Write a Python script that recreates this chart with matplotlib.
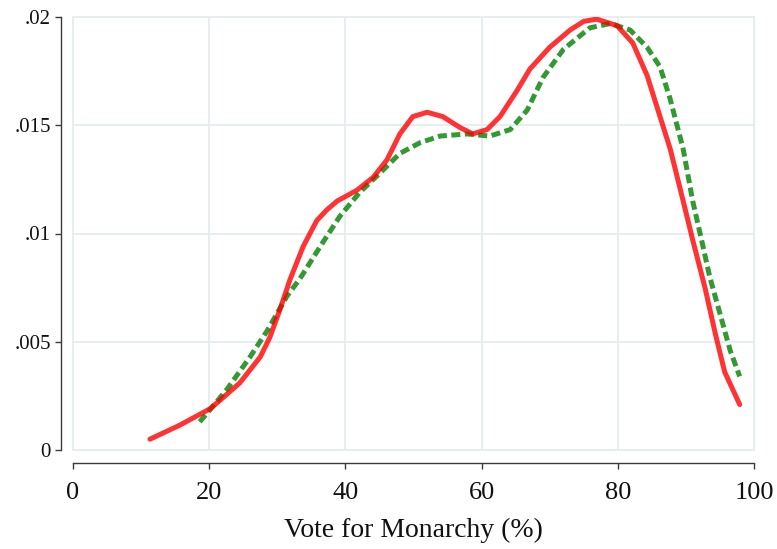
import matplotlib
matplotlib.use("Agg")
import matplotlib.pyplot as plt

# ---- data ----
red_x = [11.3, 15.7, 20.1, 21.6, 24.5, 27.5, 28.9, 30.4, 31.9, 33.8, 35.8, 37.3,
         38.8, 41.7, 44.1, 46.1, 48.0, 49.9, 52.0, 54.3, 56.8, 58.7, 60.8, 62.7,
         65.2, 67.1, 70.0, 73.0, 75.0, 76.9, 79.9, 82.2, 84.3, 87.7, 89.6, 91.0,
         92.8, 94.3, 95.7, 97.9]
red_y = [0.0005, 0.00115, 0.0019, 0.0023, 0.0031, 0.0043, 0.0052, 0.0065, 0.0079,
         0.0094, 0.0106, 0.0111, 0.0115, 0.0120, 0.0126, 0.0134, 0.0146, 0.0154,
         0.0156, 0.0154, 0.0149, 0.0146, 0.0148, 0.0154, 0.0166, 0.0176, 0.0186,
         0.0194, 0.0198, 0.0199, 0.0196, 0.0188, 0.0173, 0.0139, 0.0115, 0.0097,
         0.0075, 0.0054, 0.0036, 0.0021]

green_x = [18.6, 20.5, 22.6, 26.0, 28.5, 31.4, 33.3, 36.3, 39.2, 42.1, 45.1, 48.0,
           51.0, 53.9, 57.9, 61.2, 64.2, 66.7, 69.0, 72.0, 75.9, 78.9, 81.8, 84.3,
           86.2, 87.7, 89.6, 91.0, 92.3, 93.5, 95.0, 96.5, 97.9]
green_y = [0.0013, 0.0020, 0.0028, 0.0043, 0.0055, 0.0071, 0.0079, 0.0094, 0.0108,
           0.0119, 0.0128, 0.0137, 0.0142, 0.0145, 0.0146, 0.0145, 0.0148, 0.0157,
           0.0172, 0.0185, 0.0195, 0.0197, 0.0194, 0.0186, 0.0177, 0.0162, 0.0139,
           0.0115, 0.0097, 0.0080, 0.0063, 0.0046, 0.0034]

x_ticks = [0, 20, 40, 60, 80, 100]
x_ticklabels = ["0", "20", "40", "60", "80", "100"]
y_ticks = [0, 0.005, 0.01, 0.015, 0.02]
y_ticklabels = ["0", ".005", ".01", ".015", ".02"]
x_label = "Vote for Monarchy (%)"

# ---- figure ----
plt.rcParams['font.family'] = ['Liberation Serif', 'DejaVu Serif']
fig = plt.figure(figsize=(7.77, 5.49), dpi=100)
ax = fig.add_axes([73/777, 99/549, 681/777, 433/549])

grid_c = '#e4edf0'
ax.set_xlim(0, 100)
ax.set_ylim(0, 0.02)

ax.plot(green_x, green_y, color=(0.0, 0.5, 0.0), alpha=0.8, lw=3.6,
        dashes=(1.8, 0.9), dash_capstyle='butt', solid_joinstyle='round',
        dash_joinstyle='round', zorder=3)
ax.plot(red_x, red_y, color=(1.0, 0.0, 0.0), alpha=0.8, lw=3.6,
        solid_capstyle='round', solid_joinstyle='round', zorder=4)

ax.set_xticks(x_ticks)
ax.set_xticklabels(x_ticklabels)
ax.set_yticks(y_ticks)
ax.set_yticklabels(y_ticklabels)

ax.grid(True, color=grid_c, lw=1.3, zorder=0)
for s in ['top', 'right']:
    ax.spines[s].set_color(grid_c)
    ax.spines[s].set_linewidth(1.3)
ax.axhline(0, color=grid_c, lw=1.3, zorder=0, clip_on=False)
ax.axvline(0, color=grid_c, lw=1.3, zorder=0, clip_on=False)

ax.spines['left'].set_position(('outward', 8.6))
ax.spines['bottom'].set_position(('outward', 9.4))
ax.spines['left'].set_bounds(0, 0.02)
ax.spines['bottom'].set_bounds(0, 100)
for s in ['left', 'bottom']:
    ax.spines[s].set_color('#3a3a3a')
    ax.spines[s].set_linewidth(1.0)

ax.tick_params(axis='x', direction='out', length=4.5, width=1.0, color='#3a3a3a',
               labelsize=19, pad=9, labelcolor='#111111')
ax.tick_params(axis='y', direction='out', length=4.5, width=1.0, color='#3a3a3a',
               labelsize=15, pad=3, labelcolor='#111111')

ax.set_xlabel(x_label, fontsize=20, color='#111111', labelpad=10)

fig.savefig("out.png", dpi=100)
